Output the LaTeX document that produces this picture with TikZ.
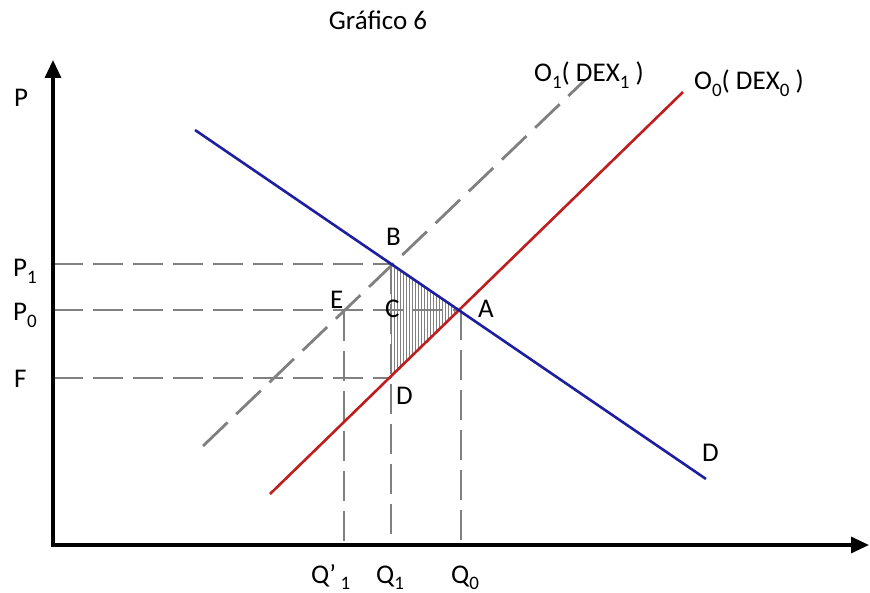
\documentclass[tikz,border=0pt]{standalone}
\usepackage{fontspec}
\setmainfont{Carlito}
\usetikzlibrary{arrows.meta}
\definecolor{bl}{RGB}{30,30,160}
\definecolor{rd}{RGB}{190,30,30}
\definecolor{gr}{RGB}{128,128,128}
\newcommand\sbs[1]{\raisebox{-0.25em}{\fontsize{19}{19}\selectfont #1}}
\begin{document}
\begin{tikzpicture}[x=1pt,y=-1pt,
  font=\fontsize{27}{32}\selectfont,
  axis/.style={line width=3.2pt,-{Triangle[length=18pt,width=16pt]}},
  guide/.style={draw=gr,line width=1.8pt,dash pattern=on 30pt off 10pt},
  lbl/.style={inner sep=0pt,anchor=base west}]
\useasboundingbox (0,0) rectangle (870,593);
% key points
\coordinate (O) at (53,545);
\coordinate (B) at (391,264);
\coordinate (A) at (461,310);
\coordinate (Dp) at (391,378);
\coordinate (E) at (344,311);
\coordinate (yP1) at (53,264);
\coordinate (yP0) at (53,310);
\coordinate (yF) at (53,378);
\coordinate (xQp) at (344,545);
\coordinate (xQ1) at (391,545);
\coordinate (xQ0) at (461,545);
\coordinate (bS) at (195,130);
\coordinate (bE) at (706,479);
\coordinate (rS) at (270,494);
\coordinate (rE) at (683,92);
\coordinate (gS) at (203,446);
\coordinate (gE) at (585,80);
% hatching
\begin{scope}
  \clip (B) -- (A) -- (Dp) -- cycle;
  \foreach \x in {391,394,...,463} \draw[gr,line width=0.9pt] (\x,255) -- (\x,385);
\end{scope}
% guides
\draw[guide] (yP1) -- (B);
\draw[guide] (yP0) -- (A);
\draw[guide] (yF) -- (Dp);
\draw[guide] (E) -- (xQp);
\draw[guide] (B) -- (xQ1);
\draw[guide] (A) -- (xQ0);
% curves
\draw[gr,line width=2.8pt,dash pattern=on 34pt off 12pt] (gS) -- (gE);
\draw[rd,line width=2.6pt] (rS) -- (rE);
\draw[bl,line width=2.6pt] (bS) -- (bE);
% axes
\draw[axis] (53,547) -- (53,60);
\draw[axis] (51,545) -- (869,545);
% labels
\node[inner sep=0pt] (title) at (378,20) {Gráfico 6};
\node[lbl] (lP) at (14,107) {P};
\node[lbl] (lP1) at (13,277) {P\sbs{1}};
\node[lbl] (lP0) at (13,321) {P\sbs{0}};
\node[lbl] (lF) at (14,388) {F};
\node[lbl] (lB) at (386,246) {B};
\node[lbl] (lC) at (385,318) {C};
\node[lbl] (lE) at (330,309) {E};
\node[lbl] (lA) at (478,318) {A};
\node[lbl] (lD) at (396,405) {D};
\node[lbl] (lD2) at (702,461) {D};
\node[lbl] (lO1) at (534,82) {O\sbs{1}( DEX\sbs{1} )};
\node[lbl] (lO0) at (694,90) {O\sbs{0}( DEX\sbs{0} )};
\node[lbl] (lQp) at (311,583) {Q’\,\sbs{1}};
\node[lbl] (lQ1) at (376,583) {Q\sbs{1}};
\node[lbl] (lQ0) at (451,583) {Q\sbs{0}};
\end{tikzpicture}
\end{document}
